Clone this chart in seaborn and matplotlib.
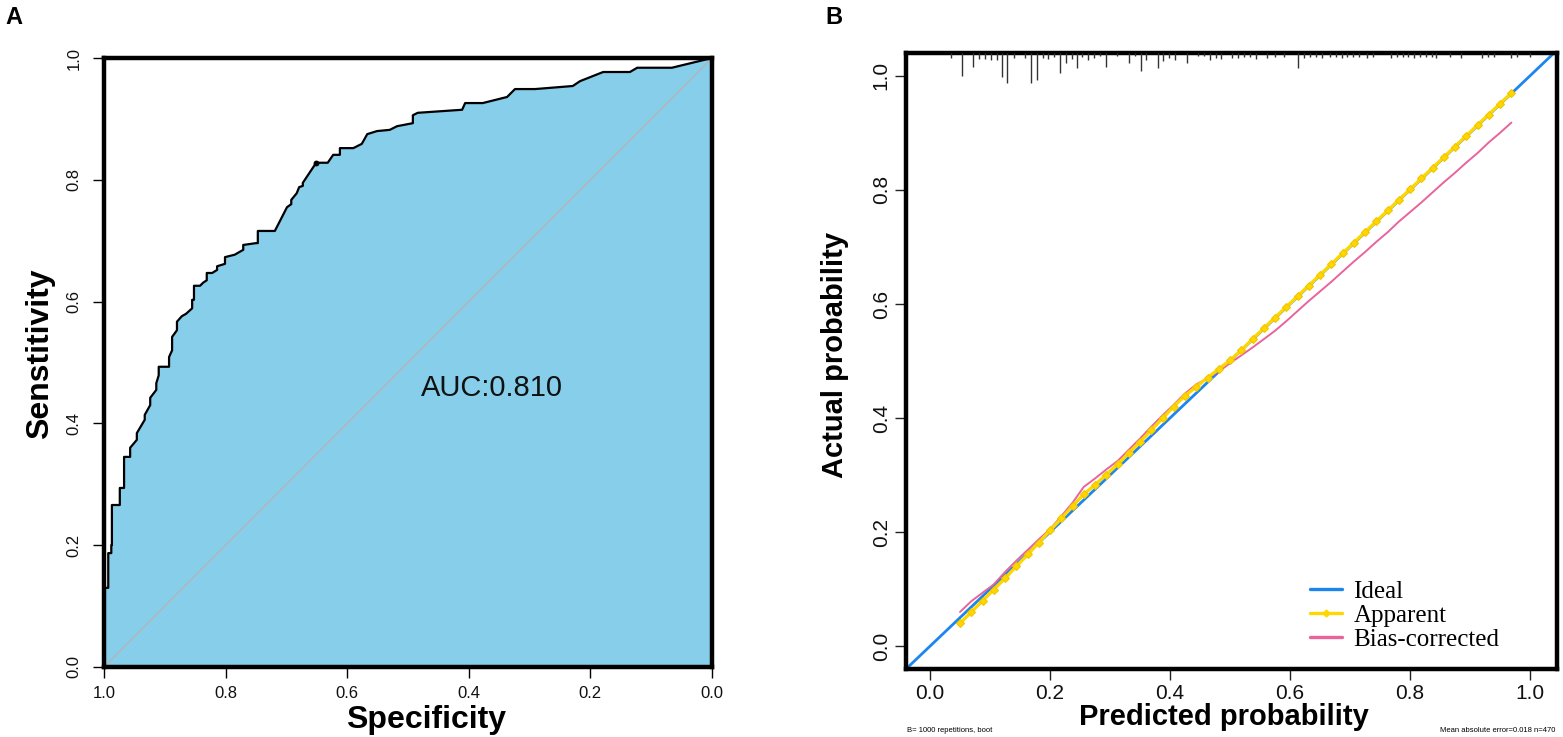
import matplotlib
matplotlib.use("Agg")
import matplotlib.pyplot as plt
from matplotlib import font_manager
from matplotlib.lines import Line2D
import pandas as pd
import seaborn as sns

# ---- panel A: ROC curve (specificity, sensitivity) ----
roc_spec = [1.000, 1.000, 0.993, 0.993, 0.988, 0.988, 0.987, 0.987, 0.974, 0.974,
            0.967, 0.967, 0.957, 0.957, 0.946, 0.946, 0.933, 0.933, 0.924, 0.924,
            0.914, 0.914, 0.910, 0.910, 0.893, 0.893, 0.888, 0.888, 0.880, 0.880,
            0.872, 0.865, 0.855, 0.855, 0.852, 0.852, 0.842, 0.837, 0.831, 0.831,
            0.822, 0.814, 0.814, 0.801, 0.801, 0.785, 0.771, 0.771, 0.750, 0.747,
            0.747, 0.719, 0.699, 0.692, 0.692, 0.683, 0.679, 0.673, 0.673, 0.651,
            0.632, 0.623, 0.612, 0.612, 0.590, 0.576, 0.567, 0.551, 0.530, 0.518,
            0.492, 0.492, 0.484, 0.411, 0.406, 0.377, 0.337, 0.324, 0.291, 0.229,
            0.217, 0.179, 0.135, 0.123, 0.066, 0.000]
roc_sens = [0.000, 0.130, 0.130, 0.187, 0.187, 0.200, 0.200, 0.266, 0.266, 0.294,
            0.294, 0.345, 0.345, 0.360, 0.373, 0.384, 0.406, 0.414, 0.430, 0.442,
            0.455, 0.466, 0.479, 0.493, 0.493, 0.509, 0.520, 0.542, 0.553, 0.567,
            0.576, 0.580, 0.589, 0.603, 0.603, 0.626, 0.626, 0.631, 0.635, 0.647,
            0.647, 0.652, 0.658, 0.662, 0.673, 0.677, 0.685, 0.693, 0.696, 0.696,
            0.716, 0.716, 0.755, 0.760, 0.767, 0.778, 0.788, 0.790, 0.795, 0.828,
            0.828, 0.841, 0.841, 0.852, 0.852, 0.859, 0.875, 0.880, 0.882, 0.888,
            0.893, 0.906, 0.910, 0.915, 0.926, 0.926, 0.936, 0.949, 0.949, 0.954,
            0.962, 0.977, 0.977, 0.984, 0.984, 1.000]
best_spec = [0.651]
best_sens = [0.828]
auc_label = "AUC:0.810"
roc_ticks = [0.0, 0.2, 0.4, 0.6, 0.8, 1.0]

# ---- panel B: calibration curve ----
pred_prob = [0.050, 0.069, 0.088, 0.106, 0.125, 0.144, 0.163, 0.181, 0.200, 0.219,
             0.238, 0.256, 0.275, 0.294, 0.313, 0.331, 0.350, 0.369, 0.388, 0.406,
             0.425, 0.444, 0.463, 0.481, 0.500, 0.519, 0.538, 0.556, 0.575, 0.594,
             0.613, 0.631, 0.650, 0.669, 0.688, 0.706, 0.725, 0.744, 0.763, 0.781,
             0.800, 0.819, 0.838, 0.856, 0.875, 0.894, 0.913, 0.931, 0.950, 0.969]
apparent = [0.040, 0.060, 0.080, 0.099, 0.119, 0.140, 0.161, 0.181, 0.203, 0.224,
            0.246, 0.266, 0.283, 0.301, 0.319, 0.338, 0.358, 0.379, 0.400, 0.420,
            0.439, 0.455, 0.471, 0.486, 0.501, 0.519, 0.539, 0.557, 0.576, 0.595,
            0.614, 0.632, 0.651, 0.670, 0.689, 0.707, 0.726, 0.745, 0.764, 0.782,
            0.801, 0.820, 0.839, 0.857, 0.876, 0.895, 0.914, 0.932, 0.951, 0.970]
bias_corrected = [0.060, 0.079, 0.094, 0.108, 0.130, 0.150, 0.169, 0.187, 0.205, 0.228,
                  0.252, 0.279, 0.294, 0.310, 0.325, 0.344, 0.364, 0.385, 0.405, 0.423,
                  0.443, 0.459, 0.470, 0.482, 0.496, 0.510, 0.524, 0.538, 0.553, 0.570,
                  0.588, 0.605, 0.622, 0.639, 0.657, 0.674, 0.691, 0.709, 0.726, 0.744,
                  0.761, 0.778, 0.796, 0.813, 0.830, 0.848, 0.865, 0.883, 0.900, 0.918]
# distribution of predicted probabilities (rug along the top)
rug_x = [0.035, 0.053, 0.072, 0.082, 0.092, 0.101, 0.111, 0.120, 0.129, 0.140,
         0.158, 0.168, 0.178, 0.188, 0.197, 0.207, 0.217, 0.226, 0.236, 0.245,
         0.254, 0.264, 0.274, 0.283, 0.293, 0.312, 0.332, 0.341, 0.351, 0.360,
         0.380, 0.389, 0.399, 0.408, 0.428, 0.447, 0.457, 0.466, 0.476, 0.485,
         0.504, 0.514, 0.523, 0.533, 0.543, 0.562, 0.575, 0.590, 0.613, 0.624,
         0.634, 0.644, 0.654, 0.666, 0.676, 0.686, 0.695, 0.705, 0.715, 0.728,
         0.738, 0.768, 0.778, 0.788, 0.797, 0.807, 0.817, 0.826, 0.836, 0.843,
         0.867, 0.885, 0.920, 0.930, 0.940, 0.968, 0.978, 1.000]
rug_len = [0.008, 0.040, 0.025, 0.011, 0.011, 0.012, 0.013, 0.042, 0.053, 0.008,
           0.008, 0.053, 0.048, 0.009, 0.011, 0.007, 0.035, 0.018, 0.011, 0.027,
           0.007, 0.013, 0.009, 0.006, 0.025, 0.006, 0.018, 0.006, 0.031, 0.013,
           0.026, 0.014, 0.009, 0.013, 0.018, 0.006, 0.006, 0.013, 0.009, 0.011,
           0.009, 0.009, 0.007, 0.007, 0.011, 0.009, 0.007, 0.007, 0.026, 0.009,
           0.007, 0.007, 0.009, 0.007, 0.007, 0.009, 0.007, 0.007, 0.007, 0.009,
           0.007, 0.009, 0.007, 0.007, 0.007, 0.009, 0.007, 0.007, 0.007, 0.009,
           0.007, 0.009, 0.009, 0.007, 0.007, 0.009, 0.007, 0.007]
cal_ticks = [0.0, 0.2, 0.4, 0.6, 0.8, 1.0]
legend_labels = ["Ideal", "Apparent", "Bias-corrected"]
note_left = "B= 1000 repetitions, boot"
note_right = "Mean absolute error=0.018 n=470"

sns.set_theme(style="ticks")
installed = {f.name for f in font_manager.fontManager.ttflist}
narrow = "Liberation Sans Narrow" if "Liberation Sans Narrow" in installed else "Liberation Sans"
plt.rcParams["font.family"] = ["Liberation Sans", "DejaVu Sans"]
plt.rcParams["axes.linewidth"] = 3
plt.rcParams["text.color"] = "black"
plt.rcParams["axes.labelcolor"] = "black"

W, H = 1563, 737
fig = plt.figure(figsize=(W / 100, H / 100), dpi=100)
axA = fig.add_axes([104 / W, 1 - 667 / H, 608 / W, 609 / H])
axB = fig.add_axes([906 / W, 1 - 669 / H, 651 / W, 616 / H])

# ---------- panel A ----------
roc = pd.DataFrame({"spec": roc_spec, "sens": roc_sens})
axA.fill_between(roc["spec"], roc["sens"], 0, color="#87CEEB", lw=0, zorder=1)
axA.plot([1, 0], [0, 1], color="#b4b4b4", lw=1, zorder=2)
sns.lineplot(data=roc, x="spec", y="sens", estimator=None, sort=False,
             color="black", lw=1.6, ax=axA, zorder=3)
sns.scatterplot(x=best_spec, y=best_sens, color="black", s=18, ax=axA, zorder=4,
                edgecolor="black", linewidth=0)
axA.text(0.362, 0.458, auc_label, ha="center", va="center", fontsize=21,
         color="#111111")
axA.set_xlim(1, 0)
axA.set_ylim(0, 1)
axA.set_xticks(roc_ticks)
axA.set_yticks(roc_ticks)
axA.set_xticklabels([f"{t:.1f}" for t in roc_ticks], family=narrow, fontsize=12)
axA.set_yticklabels([f"{t:.1f}" for t in roc_ticks], family=narrow, fontsize=12,
                    rotation=90, va="center")
axA.tick_params(axis="both", direction="out", length=8, width=1, color="black",
                labelcolor="#111111")
axA.tick_params(axis="x", pad=6)
axA.tick_params(axis="y", pad=8)
axA.set_xlabel("Specificity", fontsize=23, fontweight="bold", family=narrow, va="center")
axA.set_ylabel("Senstitivity", fontsize=23, fontweight="bold", family=narrow, va="center")
axA.xaxis.set_label_coords(0.53, -0.087)
axA.yaxis.set_label_coords(-0.105, 0.515)
for s in axA.spines.values():
    s.set_linewidth(3.2)
    s.set_color("black")

# ---------- panel B ----------
cal = pd.DataFrame({"pred": pred_prob, "apparent": apparent, "bias": bias_corrected})
axB.axline((0, 0), slope=1, color="#1C86EE", lw=2, zorder=2)
sns.lineplot(data=cal, x="pred", y="bias", color="#E8649B", lw=1.4, ax=axB, zorder=3)
sns.lineplot(data=cal, x="pred", y="apparent", color="#FFD700", lw=2.4, marker="D",
             markersize=4.5, markeredgecolor="#F2C400", ax=axB, zorder=4)
axB.set_xlim(-0.04, 1.045)
axB.set_ylim(-0.04, 1.04)
top = axB.get_ylim()[1]
axB.vlines(rug_x, [top - l for l in rug_len], top, color="#333333", lw=1, zorder=5)

axB.set_xticks(cal_ticks)
axB.set_yticks(cal_ticks)
axB.set_xticklabels([f"{t:.1f}" for t in cal_ticks], fontsize=15)
axB.set_yticklabels([f"{t:.1f}" for t in cal_ticks], fontsize=15, rotation=90,
                    va="center")
axB.tick_params(axis="both", direction="out", length=8, width=1, color="#222222",
                labelcolor="#111111", pad=3)
axB.set_xlabel("Predicted probability", fontsize=21, fontweight="bold", va="center")
axB.set_ylabel("Actual probability", fontsize=21, fontweight="bold", va="center")
axB.xaxis.set_label_coords(0.488, -0.078)
axB.yaxis.set_label_coords(-0.109, 0.51)
for s in axB.spines.values():
    s.set_linewidth(3.2)
    s.set_color("black")

handles = [
    Line2D([], [], color="#1C86EE", lw=2.4),
    Line2D([], [], color="#FFD700", lw=2.4, marker="D", markersize=3.5),
    Line2D([], [], color="#E8649B", lw=2.4),
]
axB.legend(handles, legend_labels, loc="lower left", bbox_to_anchor=(0.62, 0.03),
           frameon=False, borderpad=0, borderaxespad=0, labelspacing=0.05,
           handlelength=1.3, handletextpad=0.45,
           prop={"family": ["Liberation Serif", "DejaVu Serif"], "size": 18})

fig.text(907 / W, 1 - 731 / H, note_left, fontsize=5.5, ha="left", va="center")
fig.text(1555 / W, 1 - 731 / H, note_right, fontsize=5.5, ha="right", va="center")

fig.text(14 / W, 1 - 18 / H, "A", fontsize=17, fontweight="bold", ha="center", va="center")
fig.text(834 / W, 1 - 18 / H, "B", fontsize=17, fontweight="bold", ha="center", va="center")

fig.savefig("out.png", dpi=100, facecolor="white")
